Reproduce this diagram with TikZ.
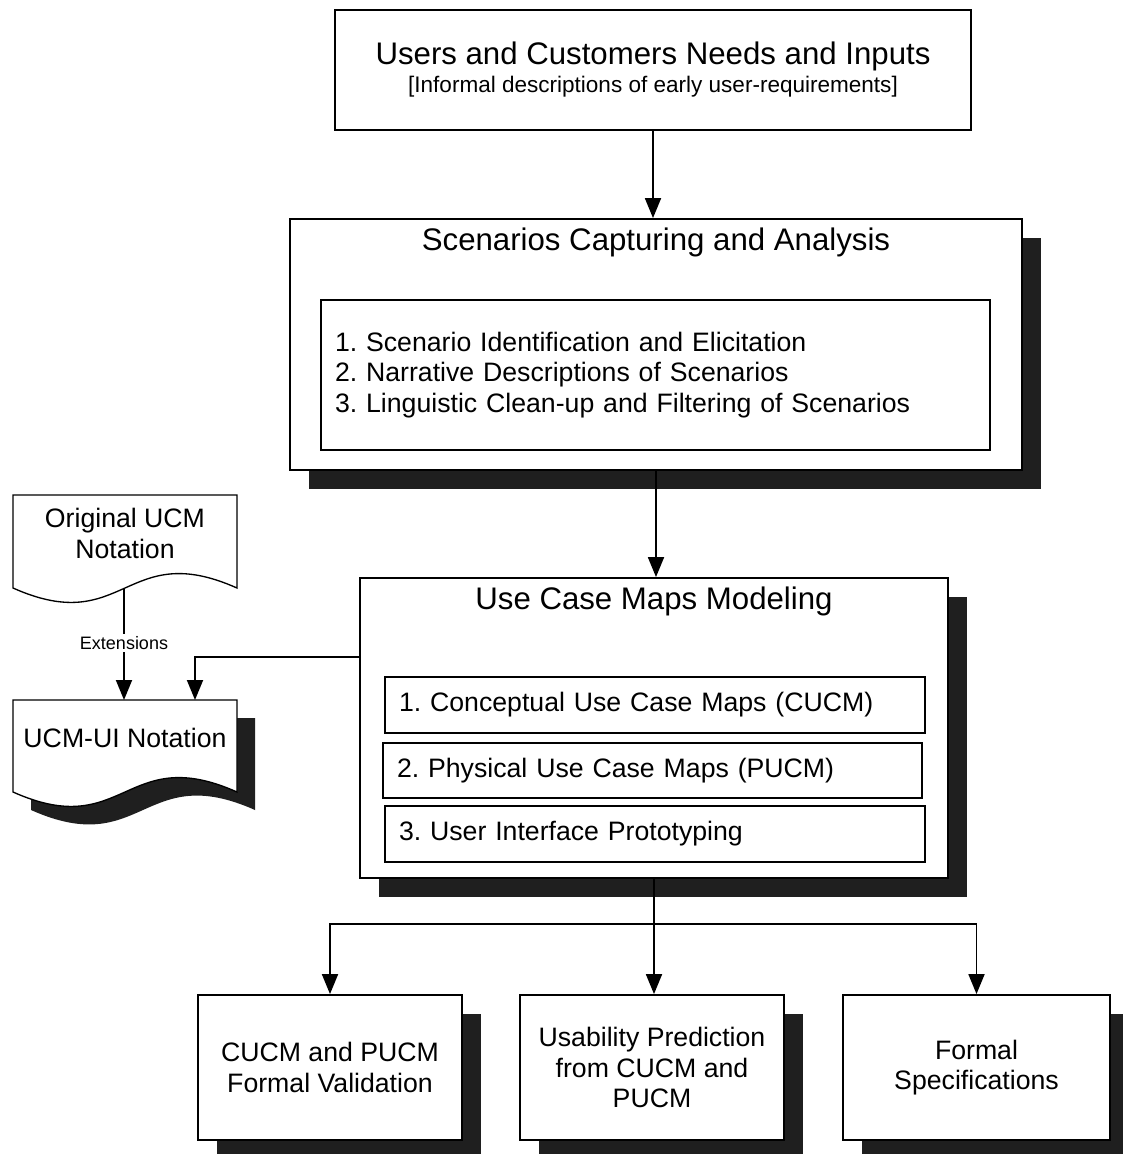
\documentclass[tikz,border=0pt]{standalone}
\usepackage{fontspec}
\setmainfont{Liberation Sans}
\usetikzlibrary{arrows.meta,shadows,positioning}
\frenchspacing

% font sizes
\newcommand{\hugefnt}{\fontsize{23.4pt}{27pt}\selectfont}
\newcommand{\midfnt}{\fontsize{20pt}{22.8pt}\selectfont}
\newcommand{\subfnt}{\fontsize{16.9pt}{20pt}\selectfont}
\newcommand{\tinyfnt}{\fontsize{13.5pt}{15pt}\selectfont}

\tikzset{
  box/.style={draw, line width=1.4pt, fill=white, inner sep=0pt},
  shadowed/.style={drop shadow={shadow xshift=14pt, shadow yshift=-14pt, fill=black!88, opacity=1}},
  listbox/.style={draw, line width=0.9pt, fill=white, align=left, inner xsep=10.5pt, inner ysep=0pt, font=\midfnt},
  doc/.style={draw, line width=1pt, fill=white},
  conn/.style={line width=1.4pt},
  arr/.style={conn, -{Triangle[length=15pt,width=12pt]}}
}

\begin{document}
\begin{tikzpicture}[x=0.75pt,y=-0.75pt]
    \useasboundingbox (0,0) rectangle (1122,1154);

    % Entree
    \node[box, minimum width=477pt, minimum height=90pt, align=center, font=\subfnt] (needs) at (653,70)
        {{\hugefnt Users and Customers Needs and Inputs}\\[1pt][Informal descriptions of early user-requirements]};

    % Scenarios
    \node[box, shadowed, minimum width=549pt, minimum height=188.25pt] (scen) at (656,344.5) {};
    \node[font=\hugefnt, inner sep=0pt, below=7.5pt of scen.north] (scentitle) {Scenarios Capturing and Analysis};
    \node[listbox, text width=480.75pt, minimum height=112.5pt] (steps) at (655.5,375)
        {1. Scenario Identification and Elicitation\\
         2. Narrative Descriptions of Scenarios\\
         3. Linguistic Clean-up and Filtering of Scenarios};

    % UCM
    \node[box, shadowed, minimum width=441pt, minimum height=225pt] (ucm) at (654,728) {};
    \node[font=\hugefnt, inner sep=0pt, below=7pt of ucm.north] (ucmtitle) {Use Case Maps Modeling};
    \node[listbox, text width=384pt, minimum height=42pt] (cucm) at (655,705) {1. Conceptual Use Case Maps (CUCM)};
    \node[listbox, text width=383.25pt, minimum height=41.25pt] (pucm) at (652.5,770.5) {2. Physical Use Case Maps (PUCM)};
    \node[listbox, text width=384pt, minimum height=42pt] (proto) at (655,834) {3. User Interface Prototyping};

    % Notations (documents)
    \draw[doc] (13,495) -- (13,588) .. controls (125,638) and (125,538) .. (237,588) -- (237,495) -- cycle;
    \node[font=\midfnt, align=center] (orig) at (125,533.5) {Original UCM\\Notation};
    \fill[black!88] (31,718) -- (31,810) .. controls (143,860) and (143,760) .. (255,810) -- (255,718) -- cycle;
    \draw[doc] (13,700) -- (13,792) .. controls (125,842) and (125,742) .. (237,792) -- (237,700) -- cycle;
    \node[font=\midfnt] (ucmui) at (125,738) {UCM-UI Notation};
    \coordinate (origtail) at (124,588);
    \coordinate (uitop) at (124,700);
    \coordinate (uitop2) at (195,700);

    % Resultats
    \node[box, shadowed, minimum width=198pt, minimum height=108.75pt, align=center, font=\midfnt] (valid) at (330,1067.5)
        {CUCM and PUCM\\Formal Validation};
    \node[box, shadowed, minimum width=198pt, minimum height=108.75pt, align=center, font=\midfnt] (usab) at (652,1067.5)
        {Usability Prediction\\from CUCM and\\PUCM};
    \node[box, shadowed, minimum width=200pt, minimum height=108.75pt, align=center, font=\midfnt] (formal) at (976.5,1067.5)
        {Formal\\Specifications};

    % Fleches
    \draw[arr] (needs.south) -- (needs.south |- scen.north);
    \draw[arr] (scen.south) -- (scen.south |- ucm.north);
    \draw[arr] (origtail) -- (uitop) node[pos=0.49, fill=white, font=\tinyfnt, inner sep=2pt] (ext) {Extensions};
    \draw[arr] ([yshift=53.25pt]ucm.west) -| (uitop2);
    \path (ucm.south) ++(0,45) coordinate (fork);
    \draw[arr] (ucm.south) -- (ucm.south |- usab.north);
    \draw[arr] (fork) -| (valid.north);
    \draw[arr] (fork) -| (formal.north);
\end{tikzpicture}
\end{document}
